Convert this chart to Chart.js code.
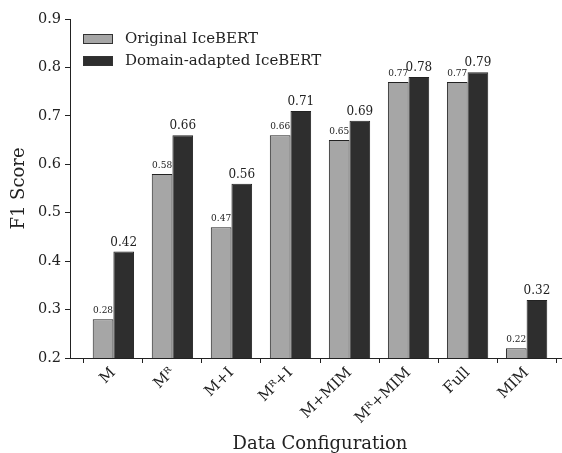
<!DOCTYPE html>
<html>
<head>
<meta charset="utf-8">
<script src="https://cdn.jsdelivr.net/npm/chart.js@4.4.0/dist/chart.umd.min.js"></script>
<style>
  html, body { margin: 0; padding: 0; background: #fff; overflow: hidden; }
  #wrap { width: 575px; height: 453px; }
</style>
</head>
<body>
<div id="wrap"><canvas id="chart" width="575" height="453"></canvas></div>
<script>
// data
const categories = ['M', 'Mᴿ', 'M+I', 'Mᴿ+I', 'M+MIM', 'Mᴿ+MIM', 'Full', 'MIM'];
const originalScores = [0.28, 0.58, 0.47, 0.66, 0.65, 0.77, 0.77, 0.22];
const adaptedScores = [0.42, 0.66, 0.56, 0.71, 0.69, 0.78, 0.79, 0.32];
const yTicks = [0.2, 0.3, 0.4, 0.5, 0.6, 0.7, 0.8, 0.9];

const FONT = "'DejaVu Serif', serif";
const INK = '#222';

const toPoints = (vals) => vals.map((v, i) => ({ x: i, y: v }));

// value labels above bars (small for original, larger for adapted)
const valueLabels = {
    id: 'valueLabels',
    afterDatasetsDraw(chart) {
        const ctx = chart.ctx;
        ctx.save();
        ctx.fillStyle = INK;
        ctx.textAlign = 'center';
        ctx.textBaseline = 'bottom';
        chart.data.datasets.forEach((ds, di) => {
            const meta = chart.getDatasetMeta(di);
            ctx.font = di === 0 ? `9px ${FONT}` : `12px ${FONT}`;
            meta.data.forEach((bar, i) => {
                const v = ds.data[i].y;
                ctx.fillText(v.toFixed(2), bar.x, bar.y - (di === 0 ? 4 : 3));
            });
        });
        ctx.restore();
    },
};

// legend drawn inside the plot, top-left
const innerLegend = {
    id: 'innerLegend',
    afterDraw(chart) {
        const ctx = chart.ctx;
        const x0 = chart.chartArea.left + 13;
        let y0 = 34;
        ctx.save();
        ctx.font = `15px ${FONT}`;
        ctx.textBaseline = 'middle';
        chart.data.datasets.forEach((ds) => {
            ctx.fillStyle = ds.backgroundColor;
            ctx.fillRect(x0, y0, 30, 10);
            ctx.strokeStyle = '#333';
            ctx.lineWidth = 1;
            ctx.strokeRect(x0 + 0.5, y0 + 0.5, 29, 9);
            ctx.fillStyle = INK;
            ctx.fillText(ds.label, x0 + 42, y0 + 5);
            y0 += 22;
        });
        ctx.restore();
    },
};

new Chart(document.getElementById('chart'), {
    type: 'bar',
    data: {
        datasets: [{
            label: 'Original IceBERT',
            data: toPoints(originalScores),
            backgroundColor: '#a6a6a6',
            borderColor: '#222',
            borderWidth: 1,
        }, {
            label: 'Domain-adapted IceBERT',
            data: toPoints(adaptedScores),
            backgroundColor: '#2e2e2e',
            borderColor: '#222',
            borderWidth: 1,
        }],
    },
    options: {
        responsive: false,
        animation: false,
        layout: { padding: { top: 19, right: 5, left: 0, bottom: 0 } },
        datasets: { bar: { categoryPercentage: 0.7, barPercentage: 1.0 } },
        plugins: {
            legend: { display: false },
            tooltip: { enabled: false },
        },
        scales: {
            x: {
                type: 'linear',
                min: -0.735,
                max: 7.735,
                offset: false,
                afterBuildTicks: (scale) => {
                    scale.ticks = categories.map((_, i) => ({ value: i }));
                },
                afterFit: (scale) => { scale.height = 95; },
                ticks: {
                    autoSkip: false,
                    maxRotation: 45,
                    minRotation: 45,
                    color: INK,
                    font: { family: FONT, size: 15 },
                    padding: 1,
                    callback: (v) => categories[v] ?? '',
                },
                grid: { drawOnChartArea: false, drawTicks: true, tickLength: 5, color: INK },
                border: { color: INK, width: 1 },
                title: {
                    display: true,
                    text: 'Data Configuration',
                    color: INK,
                    font: { family: FONT, size: 18 },
                    padding: { top: 0, bottom: -2 },
                },
            },
            y: {
                min: 0.2,
                max: 0.9,
                afterBuildTicks: (scale) => {
                    scale.ticks = yTicks.map((v) => ({ value: v }));
                },
                afterFit: (scale) => { scale.width = 70; },
                ticks: {
                    color: INK,
                    font: { family: FONT, size: 14.5 },
                    padding: 4,
                    callback: (v) => v.toFixed(1),
                },
                grid: { drawOnChartArea: false, drawTicks: true, tickLength: 5, color: INK },
                border: { color: INK, width: 1 },
                title: {
                    display: true,
                    text: 'F1 Score',
                    color: INK,
                    font: { family: FONT, size: 18 },
                    padding: { top: 9, bottom: 0 },
                },
            },
        },
    },
    plugins: [valueLabels, innerLegend],
});
</script>
</body>
</html>
